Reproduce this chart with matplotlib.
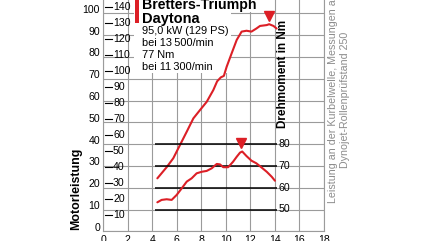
import matplotlib
matplotlib.use("Agg")
import matplotlib.pyplot as plt
from matplotlib.patches import Rectangle

# Leistungskurve (rpm in 1000/min, kW)
power_rpm = [4.42, 5.18, 5.72, 6.27, 6.82, 7.36, 7.9, 8.45, 8.99, 9.3, 9.6, 9.85,
             10.08, 10.49, 10.9, 11.3, 11.7, 12.1, 12.5, 12.8, 13.35, 13.55, 13.9, 14.16]
power_kw = [24.3, 29.4, 33.5, 39.6, 45.7, 51.8, 55.6, 59.4, 64.8, 68.8, 70.6, 71.3,
            75.5, 81.7, 87.8, 91.6, 92.0, 91.6, 93.0, 94.2, 94.6, 95.0, 94.2, 93.0]

# Drehmomentkurve (rpm in 1000/min, Nm)
torque_rpm = [4.42, 4.77, 5.18, 5.59, 6.0, 6.41, 6.82, 7.22, 7.63, 8.04, 8.45, 8.86,
              9.27, 9.53, 9.8, 10.2, 10.6, 10.9, 11.17, 11.35, 11.7, 12.1, 12.5,
              12.9, 13.35, 13.76, 14.02]
torque_nm = [53.3, 54.4, 54.7, 54.4, 56.7, 59.7, 62.8, 64.3, 66.6, 67.3, 67.7, 68.9,
             70.9, 70.7, 69.4, 69.4, 71.9, 74.2, 76.1, 76.6, 74.5, 72.4, 71.2,
             69.4, 67.3, 65.0, 63.2]

peak_power = (13.53, 95.0)
peak_torque = (11.28, 77.0)

x_ticks = list(range(0, 19, 2))
kw_ticks = list(range(0, 101, 10))
ps_ticks = list(range(10, 141, 10))
nm_ticks = [50, 60, 70, 80]

legend_title = ["Bretters-Triumph", "Daytona"]
legend_lines = ["95,0 kW (129 PS)", "bei 13\u2009500/min", "77 Nm", "bei 11\u2009300/min"]

red = "#dc1f26"
grid_col = "#9b9b9b"
plt.rcParams["font.family"] = ["Liberation Sans", "DejaVu Sans"]

W, H = 430, 241
fig = plt.figure(figsize=(W / 100, H / 100), dpi=100)

# axes: x=0 at 103.2px, 12.25px per 1000/min; kW 0 at y=231.3px, 2.18px per kW
x0px, xs = 103.2, 12.25
y0px, ys = 231.3, 2.18
kw_top = 108
ax = fig.add_axes([x0px / W, (H - y0px) / H, 18 * xs / W, kw_top * ys / H])
ax.set_xlim(0, 18)
ax.set_ylim(0, kw_top)
ax.set_axisbelow(True)
ax.set_xticks(x_ticks)
ax.set_xticklabels([str(v) for v in x_ticks], fontsize=7.6)
ax.set_yticks(kw_ticks)
ax.set_yticklabels([])
ax.tick_params(length=0, pad=2.5)
ax.grid(color=grid_col, lw=0.8)
for s in ax.spines.values():
    s.set_color(grid_col)
    s.set_linewidth(0.8)

# kW labels outside, PS labels inside
for v in kw_ticks:
    ax.text(-0.26, v + 1.6, str(v), ha="right", va="center", fontsize=7.6, clip_on=False)
for v in ps_ticks:
    y = v / 1.36
    ax.plot([0.15, 0.72], [y, y], color="black", lw=0.8, zorder=3)
    ax.text(0.8, y, str(v), ha="left", va="center", fontsize=7.6, zorder=3)

# white block behind the legend text
ax.add_patch(Rectangle((2.55, 72.5), 7.9, 40, facecolor="white", edgecolor="none",
                       zorder=1, clip_on=False))

ax.plot(power_rpm, power_kw, color=red, lw=1.5, zorder=4, solid_capstyle="round")
ax.plot(peak_power[0], peak_power[1] + 3.8, marker="v", color=red, ms=7.5, zorder=5)

# Drehmoment axis: same scale, shifted by 40
ax2 = ax.twinx()
ax2.set_ylim(40, kw_top + 40)
ax2.axis("off")
ax2.hlines(nm_ticks, 4.2, 14.2, color="black", lw=1.1, zorder=2)
for v in nm_ticks:
    ax2.text(14.3, v, str(v), ha="left", va="center", fontsize=7.6)
ax2.plot(torque_rpm, torque_nm, color=red, lw=1.5, zorder=4, solid_capstyle="round")
ax2.plot(peak_torque[0], peak_torque[1] + 3.5, marker="v", color=red, ms=7.5, zorder=5)

ax.text(14.68, 72.2, "Drehmoment in Nm", rotation=90, ha="center", va="center",
        fontsize=8.5, fontweight="bold")
fig.text(76 / W, 1 - 189 / H, "Motorleistung", rotation=90, ha="center", va="center",
         fontsize=8.9, fontweight="bold")

# legend block
ax.add_patch(Rectangle((2.6, 95.5), 0.32, 15, facecolor=red, edgecolor="none",
                       zorder=6, clip_on=False))
fig.text(142 / W, 1 - 8.5 / H, legend_title[0], fontsize=10.2, fontweight="bold",
         va="baseline", bbox=dict(facecolor="white", edgecolor="none", pad=0.5))
fig.text(142 / W, 1 - 22.7 / H, legend_title[1], fontsize=10.5, fontweight="bold",
         va="baseline")
for i, s in enumerate(legend_lines):
    fig.text(142.5 / W, 1 - (34.5 + i * 11.8) / H, s, fontsize=7.9, va="baseline")

# note on the right
note_col = "#8c8c8c"
fig.text(333 / W, 1 - 203 / H, "Leistung an der Kurbelwelle, Messungen auf",
         rotation=90, ha="center", va="bottom", fontsize=7.7, color=note_col)
fig.text(345.5 / W, 1 - 168 / H, "Dynojet-Rollenprüfstand 250",
         rotation=90, ha="center", va="bottom", fontsize=7.7, color=note_col)

fig.savefig("out.png", dpi=100)
